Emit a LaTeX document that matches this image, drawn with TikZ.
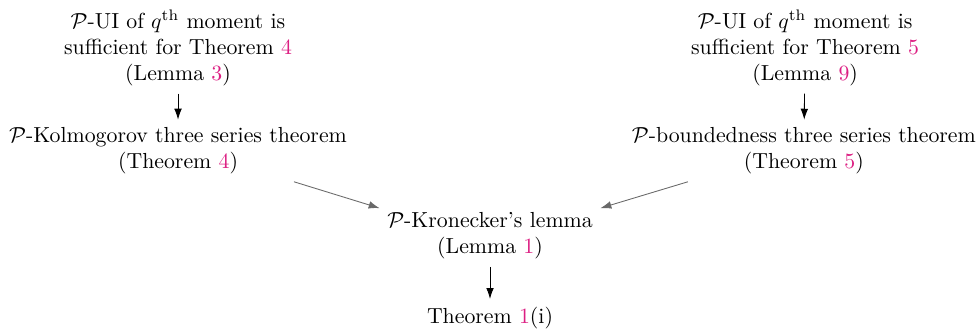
\documentclass[tikz,border=0pt]{standalone}
\usepackage{tikz}
\usetikzlibrary{arrows.meta,positioning}
\definecolor{refc}{RGB}{220,30,130}
\definecolor{arrg}{RGB}{105,105,105}

\begin{document}
\begin{tikzpicture}[
    res/.style={align=center, inner sep=3.33pt},
    down/.style={-{Latex[length=5pt,width=3.5pt]}, black},
    side/.style={-{Latex[length=5pt,width=3.5pt]}, arrg}
]
    \useasboundingbox (0,0) rectangle (15.80,5.35);

    % Left chain
    \node[res] (uil) at (2.87, 4.58) {$\mathcal{P}$-UI of $q^{\mathrm{th}}$ moment is\\ sufficient for Theorem \textcolor{refc}{4}\\ (Lemma \textcolor{refc}{3})};
    \node[res] (kol) at (2.87, 2.92) {$\mathcal{P}$-Kolmogorov three series theorem\\ (Theorem \textcolor{refc}{4})};

    % Right chain
    \node[res] (uir) at (12.98, 4.58) {$\mathcal{P}$-UI of $q^{\mathrm{th}}$ moment is\\ sufficient for Theorem \textcolor{refc}{5}\\ (Lemma \textcolor{refc}{9})};
    \node[res] (bnd) at (12.96, 2.92) {$\mathcal{P}$-boundedness three series theorem\\ (Theorem \textcolor{refc}{5})};

    % Middle
    \node[res] (kro) at (7.90, 1.55) {$\mathcal{P}$-Kronecker's lemma\\ (Lemma \textcolor{refc}{1})};
    \node[res] (thm) at (7.90, 0.23) {Theorem \textcolor{refc}{1}(i)};

    \draw[down] (uil) -- (kol);
    \draw[down] (uir) -- (bnd);
    \draw[down] (kro) -- (thm);
    \draw[side] (kol.-15.6) -- (kro.166);
    \draw[side] (bnd.195.6) -- (kro.14);
\end{tikzpicture}
\end{document}
